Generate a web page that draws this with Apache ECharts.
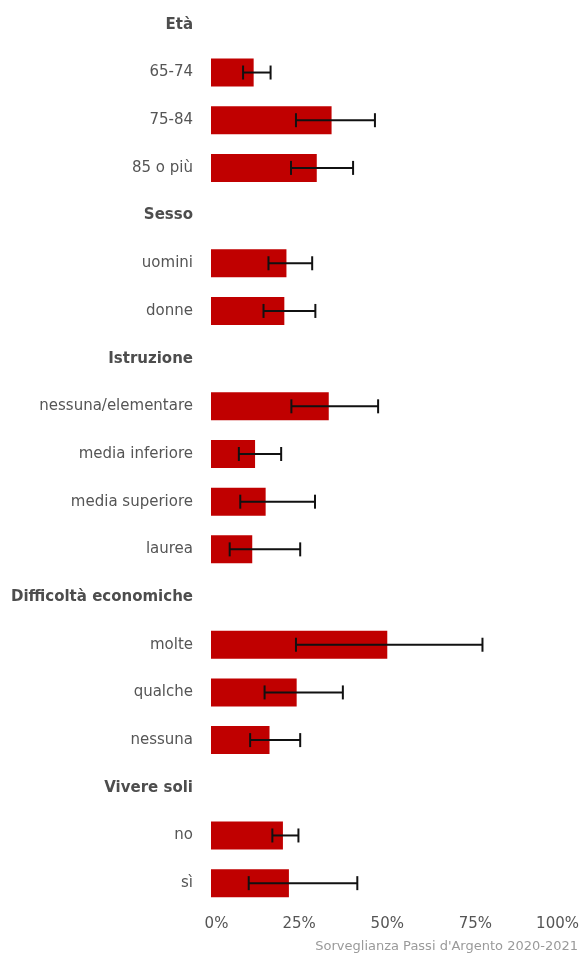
<!DOCTYPE html>
<html>
<head>
<meta charset="utf-8">
<script src="https://cdn.jsdelivr.net/npm/echarts@6/dist/echarts.min.js"></script>
<style>
  html, body { margin: 0; padding: 0; background: #fff; }
  #chart { width: 582px; height: 954px; }
</style>
</head>
<body>
<div id="chart"></div>
<script>
// Rows from top to bottom; group headings have no values
const categories = [
  'Età', '65-74', '75-84', '85 o più',
  'Sesso', 'uomini', 'donne',
  'Istruzione', 'nessuna/elementare', 'media inferiore', 'media superiore', 'laurea',
  'Difficoltà economiche', 'molte', 'qualche', 'nessuna',
  'Vivere soli', 'no', 'sì'
];
const headers = ['Età', 'Sesso', 'Istruzione', 'Difficoltà economiche', 'Vivere soli'];

// Prevalence (%) and 95% confidence limits
const values = [null, 12.1, 34.2, 30.0, null, 21.4, 20.8, null, 33.4, 12.5, 15.5, 11.7, null, 50.0, 24.3, 16.6, null, 20.4, 22.1];
const lower  = [null,  9.1, 24.1, 22.7, null, 16.3, 14.9, null, 22.8,  7.9,  8.3,  5.3, null, 24.1, 15.2, 11.1, null, 17.4, 10.7];
const upper  = [null, 16.9, 46.5, 40.3, null, 28.7, 29.6, null, 47.4, 19.9, 29.5, 25.3, null, 77.0, 37.4, 25.3, null, 24.8, 41.5];

const xTicks = [0, 25, 50, 75, 100];
const source = 'Sorveglianza Passi d\'Argento 2020-2021';

const chart = echarts.init(document.getElementById('chart'));
const FONT = 'DejaVu Sans';

const barData = values.map(v => (v === null ? '-' : v));
const errData = [];
categories.forEach((c, i) => {
  if (lower[i] !== null) errData.push([i, lower[i], upper[i]]);
});

chart.setOption({
  animation: false,
  backgroundColor: '#ffffff',
  grid: { left: 211, right: 18, top: 1, bottom: 47, containLabel: false },
  graphic: [{
    type: 'text',
    right: 4,
    bottom: 1,
    style: { text: source, font: '13px "DejaVu Sans"', fill: '#9a9a9a' }
  }],
  xAxis: {
    type: 'value',
    min: 0,
    max: 100,
    interval: 25,
    splitLine: { show: false },
    axisLine: { show: false },
    axisTick: { show: false },
    axisLabel: {
      margin: 10,
      formatter: function (v) {
        if (v === xTicks[0]) return '{first|' + v + '%}';
        if (v === xTicks[xTicks.length - 1]) return '{last|' + v + '%}';
        return v + '%';
      },
      color: '#555555',
      fontFamily: FONT,
      fontSize: 15,
      rich: {
        first: { fontFamily: FONT, fontSize: 15, color: '#555555', padding: [0, 0, 0, 11] },
        last: { fontFamily: FONT, fontSize: 15, color: '#555555', padding: [0, 12, 0, 0] }
      }
    }
  },
  yAxis: {
    type: 'category',
    data: categories,
    inverse: true,
    axisLine: { show: false },
    axisTick: { show: false },
    splitLine: { show: false },
    axisLabel: {
      margin: 18,
      color: '#555555',
      fontFamily: FONT,
      fontSize: 15,
      formatter: function (v) {
        return headers.indexOf(v) >= 0 ? '{h|' + v + '}' : v;
      },
      rich: {
        h: { fontFamily: FONT, fontSize: 15, fontWeight: 'bold', color: '#4d4d4d' }
      }
    }
  },
  series: [
    {
      type: 'bar',
      data: barData,
      barWidth: 28,
      itemStyle: { color: '#c00000' },
      z: 2
    },
    {
      type: 'custom',
      data: errData,
      encode: { x: [1, 2], y: 0 },
      z: 5,
      renderItem: function (params, api) {
        const cat = api.value(0);
        const lo = api.coord([api.value(1), cat]);
        const hi = api.coord([api.value(2), cat]);
        const half = 7;
        const style = { stroke: '#111111', lineWidth: 2 };
        return {
          type: 'group',
          children: [
            { type: 'line', shape: { x1: lo[0], y1: lo[1], x2: hi[0], y2: hi[1] }, style: style },
            { type: 'line', shape: { x1: lo[0], y1: lo[1] - half, x2: lo[0], y2: lo[1] + half }, style: style },
            { type: 'line', shape: { x1: hi[0], y1: hi[1] - half, x2: hi[0], y2: hi[1] + half }, style: style }
          ]
        };
      }
    }
  ]
});
</script>
</body>
</html>
